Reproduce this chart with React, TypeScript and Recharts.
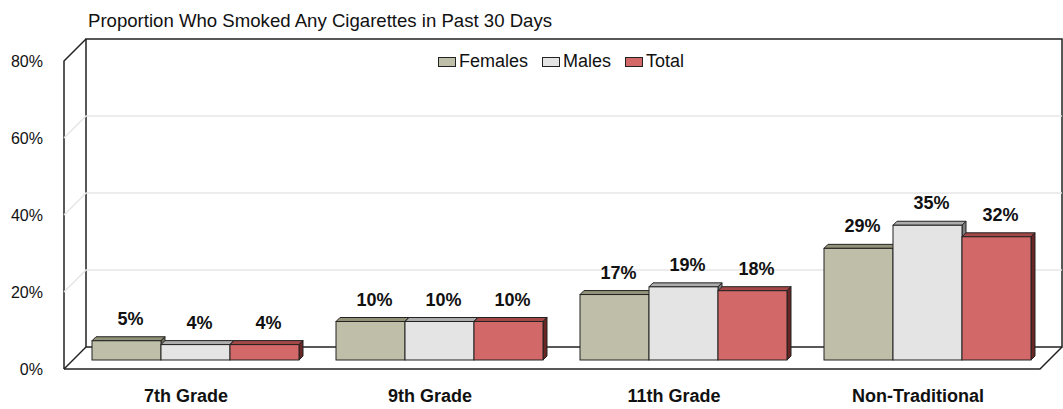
import { BarChart, Bar, XAxis, YAxis, CartesianGrid, LabelList } from "recharts";

const categories = ["7th Grade", "9th Grade", "11th Grade", "Non-Traditional"];
const females = [5, 10, 17, 29];
const males = [4, 10, 19, 35];
const total = [4, 10, 18, 32];
const yTicks = [0, 20, 40, 60, 80];
const seriesNames = ["Females", "Males", "Total"];
const title = "Proportion Who Smoked Any Cigarettes in Past 30 Days";

const data = categories.map((name, i) => ({
  name,
  Females: females[i],
  Males: males[i],
  Total: total[i],
}));

const W = 1063;
const H = 409;
const LEFT = 64;
const RIGHT = 1040;
const TOP = 61;
const BOTTOM = 369;
const DEPTH = 22; // depth of the 3d box
const BAR_SHIFT = 9; // bars sit a bit behind the front edge
const BAR_DEPTH = 4;
const FONT = "'Liberation Sans', Arial, sans-serif";

const colors: Record<string, { front: string; top: string; side: string }> = {
  Females: { front: "#BFBFA9", top: "#929279", side: "#6F6F5A" },
  Males: { front: "#E4E4E4", top: "#ADADAD", side: "#7E7E7E" },
  Total: { front: "#D26868", top: "#A44747", side: "#6A2525" },
};

const makeShape = (name: string) => (props: any) => {
  const c = colors[name];
  const { x, y, width, height } = props;
  const X = x + BAR_SHIFT;
  const Y = y - BAR_SHIFT;
  const d = BAR_DEPTH;
  return (
    <g stroke="#222" strokeWidth={1}>
      <polygon
        points={`${X},${Y} ${X + d},${Y - d} ${X + width + d},${Y - d} ${X + width},${Y}`}
        fill={c.top}
      />
      <polygon
        points={`${X + width},${Y} ${X + width + d},${Y - d} ${X + width + d},${Y + height - d} ${X + width},${Y + height}`}
        fill={c.side}
      />
      <rect x={X} y={Y} width={width} height={height} fill={c.front} />
    </g>
  );
};

const valueLabel = (p: any) => (
  <text
    x={Number(p.x) + Number(p.width) / 2 + BAR_SHIFT + 4}
    y={Number(p.y) - BAR_SHIFT - 16}
    textAnchor="middle"
    fontFamily={FONT}
    fontWeight="bold"
    fontSize={18}
    fill="#111"
  >
    {p.value}%
  </text>
);

const XTick = (p: any) => (
  <text x={p.x} y={p.y} dy={25} textAnchor="middle" fontFamily={FONT} fontWeight="bold" fontSize={18} fill="#111">
    {p.payload.value}
  </text>
);

const YTick = (p: any) => (
  <text x={p.x} y={p.y} dy="0.36em" textAnchor="end" fontFamily={FONT} fontSize={16} fill="#111">
    {p.payload.value}%
  </text>
);

const gridLine = (p: any) => {
  if (Math.abs(p.y1 - BOTTOM) < 1 || Math.abs(p.y1 - TOP) < 1) return <g key={p.key} />;
  return (
    <path
      key={p.key}
      d={`M${p.x1},${p.y1} L${p.x1 + DEPTH},${p.y1 - DEPTH} L${p.x2 + DEPTH},${p.y1 - DEPTH}`}
      stroke="#E6E6E6"
      strokeWidth={1.5}
      fill="none"
    />
  );
};

function Frame() {
  const bT = TOP - DEPTH;
  const bB = BOTTOM - DEPTH;
  const bL = LEFT + DEPTH;
  const bR = RIGHT + DEPTH;
  return (
    <svg width={W} height={H} style={{ position: "absolute", left: 0, top: 0 }}>
      <text x={88} y={27} fontFamily={FONT} fontSize={18.6} fill="#111">
        {title}
      </text>
      <g fill="#fff" stroke="none">
        <rect x={bL} y={bT} width={bR - bL} height={bB - bT} />
        <polygon points={`${LEFT},${TOP} ${bL},${bT} ${bL},${bB} ${LEFT},${BOTTOM}`} />
        <polygon points={`${LEFT},${BOTTOM} ${RIGHT},${BOTTOM} ${bR},${bB} ${bL},${bB}`} />
      </g>
      <g fill="none" stroke="#222" strokeWidth={1.5}>
        <path d={`M${bL},${bB} L${bL},${bT} L${bR},${bT} L${bR},${bB} Z`} />
        <path d={`M${LEFT},${BOTTOM} L${LEFT},${TOP} L${bL},${bT}`} />
        <path d={`M${LEFT},${BOTTOM} L${bL},${bB}`} />
        <path d={`M${LEFT},${BOTTOM} L${RIGHT},${BOTTOM} L${bR},${bB}`} />
      </g>
    </svg>
  );
}

function Legend3d() {
  return (
    <div
      style={{
        position: "absolute",
        left: 438,
        top: 51,
        display: "flex",
        alignItems: "center",
        fontFamily: FONT,
        fontSize: 18,
        color: "#111",
      }}
    >
      {seriesNames.map((s) => (
        <div key={s} style={{ display: "flex", alignItems: "center", marginRight: 14 }}>
          <span
            style={{
              display: "inline-block",
              width: 16,
              height: 8,
              border: "1.5px solid #222",
              background: colors[s].front,
              marginRight: 3,
            }}
          />
          <span>{s}</span>
        </div>
      ))}
    </div>
  );
}

export default function App() {
  return (
    <div style={{ position: "absolute", left: 0, top: 0, width: W, height: H, background: "#fff" }}>
      <Frame />
      <div style={{ position: "absolute", left: 0, top: 0 }}>
        <BarChart
          width={W}
          height={H}
          data={data}
          margin={{ top: TOP, right: W - RIGHT, bottom: 0, left: 0 }}
          barGap={0}
          barSize={69}
        >
          <CartesianGrid vertical={false} horizontal={gridLine} />
          <XAxis dataKey="name" height={H - BOTTOM} axisLine={false} tickLine={false} interval={0} tick={XTick} />
          <YAxis
            width={LEFT}
            domain={[0, 80]}
            ticks={yTicks}
            axisLine={false}
            tickLine={false}
            tickSize={0}
            tickMargin={21}
            tick={YTick}
          />
          {seriesNames.map((s) => (
            <Bar key={s} dataKey={s} shape={makeShape(s)} isAnimationActive={false}>
              <LabelList dataKey={s} content={valueLabel} />
            </Bar>
          ))}
        </BarChart>
      </div>
      <Legend3d />
    </div>
  );
}
